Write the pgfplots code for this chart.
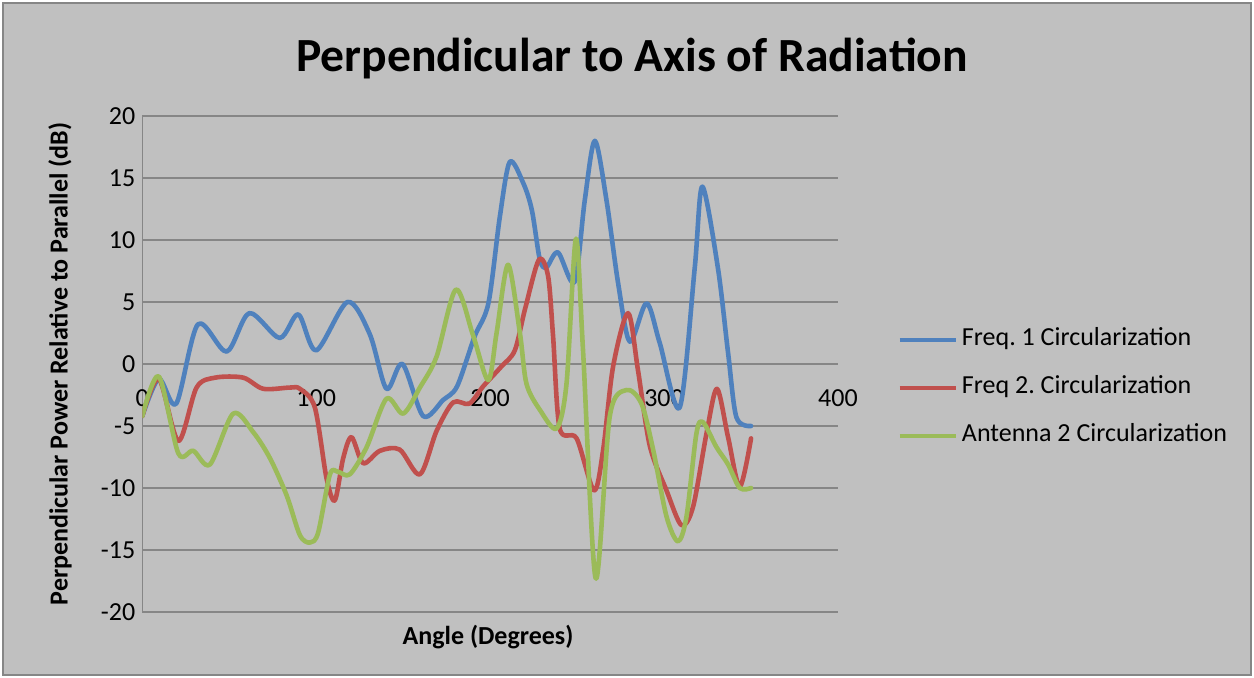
\documentclass[border=0pt]{standalone}
\usepackage{pgfplots}
\pgfplotsset{compat=1.18}
\usepackage{fontspec}
\setmainfont{Carlito}
\frenchspacing
\definecolor{bg}{HTML}{C0C0C0}
\definecolor{gridc}{HTML}{868686}
\definecolor{s1}{HTML}{4F81BD}
\definecolor{s2}{HTML}{C0504D}
\definecolor{s3}{HTML}{9BBB59}
\begin{document}
\begin{tikzpicture}[font=\fontsize{13pt}{15pt}\selectfont]
\useasboundingbox (0,0) rectangle (627pt,339pt);
\fill[white] (0,0) rectangle (627pt,339pt);
\draw[fill=bg, draw=gridc, line width=1pt] (1.5pt,1.5pt) rectangle (625.5pt,337.5pt);
\begin{axis}[
  at={(71.15pt,33pt)}, anchor=south west,
  width=347.85pt, height=248pt, scale only axis,
  xmin=0, xmax=400, ymin=-20, ymax=20,
  xtick={0,100,200,300,400}, ytick={-20,-15,...,20},
  axis y line*=left, axis x line*=middle,
  hide obscured x ticks=false, hide obscured y ticks=false,
  axis line style={draw=gridc, line width=0.8pt},
  ymajorgrids, grid style={draw=gridc, line width=0.8pt},
  major tick length=0pt,
  /pgf/number format/assume math mode=true,
  tick label style={font=\fontsize{13pt}{15pt}\selectfont, text=black},
  xticklabel style={yshift=-9.5pt},
  title={Perpendicular to Axis of Radiation},
  title style={at={(axis description cs:0.704,1.091)}, anchor=center, font=\fontsize{23.8pt}{28pt}\selectfont\bfseries},
  xlabel={Angle (Degrees)},
  xlabel style={at={(axis description cs:0.497,-0.05)}, anchor=center, font=\fontsize{13pt}{15pt}\selectfont\bfseries},
  ylabel={Perpendicular Power Relative to Parallel (dB)},
  ylabel style={at={(axis description cs:-0.1183,0.5)}, anchor=center, font=\fontsize{13pt}{15pt}\selectfont\bfseries},
  legend style={at={(axis description cs:1.0848,0.4517)}, anchor=west, draw=none, fill=none,
    font=\fontsize{13pt}{15pt}\selectfont, inner sep=0pt, row sep=12pt, column sep=2pt,
    nodes={inner sep=0pt, text height=9pt, text depth=3pt}},
  legend cell align=left,
  legend image code/.code={\draw[#1, line width=2.3pt, line cap=butt] (0pt,0pt) -- (28pt,0pt);},
  every axis plot/.append style={line width=2.3pt, smooth, line join=round, line cap=round},
]
\addplot[s1] coordinates {
(0,-4.2) (9.5,-1.2) (19.5,-3.2) (32,3.2) (48.5,1.0) (61.5,4.1) (79,2.1) (89.7,4.0) (100,1.1)
(118,5.0) (130.8,2.4) (140.4,-2.0) (149.6,0) (161.5,-4.2) (173,-2.9) (181,-1.8) (191,2.2)
(199,4.9) (205.6,11.9) (211.3,16.3) (219,14.6) (224,12.4) (228.6,8.4) (232.4,7.8) (239,9.0)
(248.5,6.6) (254.4,13.2) (260.2,18) (266.9,13.2) (273.6,6.5) (280.3,1.8) (289.9,4.9)
(297.5,1.7) (309,-3.5) (317.6,7.7) (322,14.3) (331,7.7) (336.8,0.9) (341.6,-4.3) (350,-5.0)
};
\addlegendentry{Freq. 1 Circularization}
\addplot[s2] coordinates {
(0,-4.2) (9.5,-1.2) (20.7,-6.2) (31.2,-1.9) (42,-1.1) (58,-1.1) (69.5,-2.0) (85,-1.9)
(90.6,-2.0) (99.2,-3.5) (105.9,-9.2) (110.7,-11.0) (115.5,-7.6) (120.3,-5.9) (127,-8.0)
(136.6,-7.0) (148,-6.9) (159.6,-8.9) (169.2,-5.4) (178.7,-3.1) (188,-3.2) (196,-1.8)
(206.5,-0.2) (214.2,1.1) (220,4.4) (228,8.4) (233.3,7.1) (236.2,2.2) (240,-5.2) (249.7,-6.0)
(259.7,-10.2) (265,-6.9) (270.7,-0.2) (279.3,4.1) (285,-0.5) (291.8,-6.6) (301.4,-10.2)
(310,-13.0) (316.7,-11.5) (324.4,-5.6) (330.4,-2.0) (336.8,-5.9) (343.5,-9.9) (350,-6.0)
};
\addlegendentry{Freq 2. Circularization}
\addplot[s3] coordinates {
(0,-4.2) (9.5,-1.0) (20.7,-7.2) (29.3,-7.0) (38.9,-8.1) (52.3,-4.0) (63.8,-5.5) (73.4,-7.6)
(83,-10.6) (90.6,-13.8) (96.4,-14.4) (101.1,-13.6) (107.9,-8.9) (112.6,-8.7) (119.3,-8.9)
(129,-6.7) (140.4,-2.8) (150,-4.0) (159.6,-1.9) (169.2,0.6) (180.3,6.0) (190.2,2.3)
(198.9,-1.3) (203.7,2.5) (210.3,8.0) (217.1,2.5) (220.9,-1.6) (228.6,-3.7) (238.2,-5.2)
(243.9,-1.6) (249.3,10.1) (253.4,1.1) (260.7,-17.3) (268.8,-4.2) (278.4,-2.1) (287,-3.2)
(293.7,-6.9) (301.4,-12.3) (308,-14.3) (312.9,-12.3) (318.6,-5.6) (322.4,-4.7) (330.1,-6.7)
(336.8,-8.1) (343.5,-10.0) (350,-10.0)
};
\addlegendentry{Antenna 2 Circularization}
\end{axis}
\end{tikzpicture}
\end{document}
